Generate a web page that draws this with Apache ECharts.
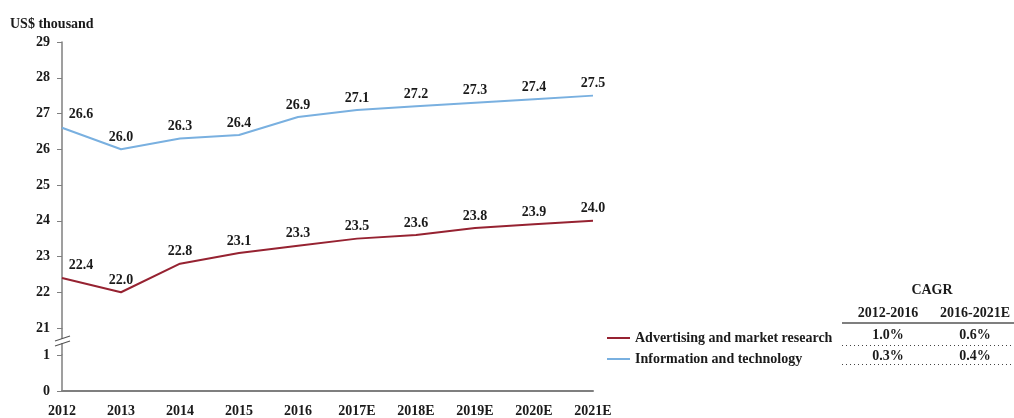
<!DOCTYPE html>
<html>
<head>
<meta charset="utf-8">
<script src="https://cdn.jsdelivr.net/npm/echarts@6/dist/echarts.min.js"></script>
<style>
  html, body { margin: 0; padding: 0; background: #fff; }
  #chart { width: 1014px; height: 418px; }
</style>
</head>
<body>
<div id="chart"></div>
<script>
// values
const years = ['2012', '2013', '2014', '2015', '2016', '2017E', '2018E', '2019E', '2020E', '2021E'];
const advertising = [22.4, 22.0, 22.8, 23.1, 23.3, 23.5, 23.6, 23.8, 23.9, 24.0];
const infoTech = [26.6, 26.0, 26.3, 26.4, 26.9, 27.1, 27.2, 27.3, 27.4, 27.5];
const seriesNames = ['Advertising and market research', 'Information and technology'];
const cagrPeriods = ['2012-2016', '2016-2021E'];
const cagrAdvertising = ['1.0%', '0.6%'];
const cagrInfoTech = ['0.3%', '0.4%'];

const FONT = "'Liberation Serif', 'Times New Roman', serif";
const FS = 14;
const TXT = '#1a1a1a';
const AXIS = '#7f7f7f';
const RED = '#962231';
const BLUE = '#79b0e0';

const chart = echarts.init(document.getElementById('chart'), null, { renderer: 'canvas' });

function labelCfg() {
  return {
    show: true,
    position: 'top',
    distance: 5,
    fontFamily: FONT,
    fontWeight: 'bold',
    fontSize: FS,
    color: TXT,
    formatter: p => p.value.toFixed(1)
  };
}

function lineData(arr) {
  // first point sits on the axis, so its label is pushed right
  return arr.map((v, i) => i === 0 ? { value: v, label: { offset: [19, -1] } } : v);
}

// CAGR table (right side)
const colX = [888, 975];
const tableGraphics = [];
tableGraphics.push({
  type: 'text', x: 932, y: 290,
  style: { text: 'CAGR', font: 'bold ' + FS + 'px ' + FONT, fill: TXT, align: 'center', verticalAlign: 'middle' }
});
cagrPeriods.forEach((t, i) => {
  tableGraphics.push({
    type: 'text', x: colX[i], y: 313,
    style: { text: t, font: 'bold ' + FS + 'px ' + FONT, fill: TXT, align: 'center', verticalAlign: 'middle' }
  });
  tableGraphics.push({
    type: 'text', x: colX[i], y: 335,
    style: { text: cagrAdvertising[i], font: 'bold ' + FS + 'px ' + FONT, fill: TXT, align: 'center', verticalAlign: 'middle' }
  });
  tableGraphics.push({
    type: 'text', x: colX[i], y: 356,
    style: { text: cagrInfoTech[i], font: 'bold ' + FS + 'px ' + FONT, fill: TXT, align: 'center', verticalAlign: 'middle' }
  });
});
tableGraphics.push({
  type: 'line', shape: { x1: 842, y1: 323, x2: 1014, y2: 323 },
  style: { stroke: '#555', lineWidth: 1.5 }
});
[345.5, 364.5].forEach(y => {
  tableGraphics.push({
    type: 'line', shape: { x1: 842, y1: y, x2: 1014, y2: y },
    style: { stroke: '#444', lineWidth: 1.2, lineDash: [1, 3] }
  });
});

// axis break pieces between the two panels
const breakGraphics = [
  { type: 'line', shape: { x1: 62, y1: 328, x2: 62, y2: 339 }, style: { stroke: AXIS, lineWidth: 1.5 } },
  { type: 'line', shape: { x1: 62, y1: 343, x2: 62, y2: 355 }, style: { stroke: AXIS, lineWidth: 1.5 } },
  { type: 'line', shape: { x1: 55, y1: 341, x2: 70, y2: 336 }, style: { stroke: '#555', lineWidth: 1.2 } },
  { type: 'line', shape: { x1: 55, y1: 346, x2: 70, y2: 341 }, style: { stroke: '#555', lineWidth: 1.2 } }
];

const yAxisCommon = {
  type: 'value',
  interval: 1,
  axisLine: { show: true, lineStyle: { color: AXIS, width: 1.5 } },
  axisTick: { show: true, length: 5, lineStyle: { color: AXIS, width: 1 } },
  splitLine: { show: false },
  axisLabel: { fontFamily: FONT, fontWeight: 'bold', fontSize: FS, color: TXT, margin: 12 }
};

chart.setOption({
  animation: false,
  backgroundColor: '#fff',
  title: {
    text: 'US$ thousand', left: 5, top: 12,
    textStyle: { fontFamily: FONT, fontWeight: 'bold', fontSize: FS, color: TXT }
  },
  legend: {
    orient: 'vertical', left: 602, top: 326, itemGap: 7,
    itemWidth: 23, itemHeight: 2, icon: 'rect',
    data: seriesNames,
    textStyle: { fontFamily: FONT, fontWeight: 'bold', fontSize: FS, color: TXT }
  },
  grid: [
    { left: 62, top: 42, width: 531, height: 286 },
    { left: 62, top: 355, width: 531, height: 36 }
  ],
  xAxis: [
    { type: 'category', gridIndex: 0, data: years, boundaryGap: false, show: false },
    {
      type: 'category', gridIndex: 1, data: years, boundaryGap: false,
      axisLine: { show: true, lineStyle: { color: AXIS, width: 2 } },
      axisTick: { show: false },
      axisLabel: { fontFamily: FONT, fontWeight: 'bold', fontSize: FS, color: TXT, margin: 13, interval: 0 }
    }
  ],
  yAxis: [
    Object.assign({}, yAxisCommon, { gridIndex: 0, min: 21, max: 29 }),
    Object.assign({}, yAxisCommon, { gridIndex: 1, min: 0, max: 1 })
  ],
  series: [
    {
      name: seriesNames[0], type: 'line', xAxisIndex: 0, yAxisIndex: 0,
      data: lineData(advertising), symbol: 'circle', symbolSize: 0, showSymbol: true,
      lineStyle: { color: RED, width: 2 }, itemStyle: { color: RED },
      label: labelCfg()
    },
    {
      name: seriesNames[1], type: 'line', xAxisIndex: 0, yAxisIndex: 0,
      data: lineData(infoTech), symbol: 'circle', symbolSize: 0, showSymbol: true,
      lineStyle: { color: BLUE, width: 2 }, itemStyle: { color: BLUE },
      label: labelCfg()
    }
  ],
  graphic: breakGraphics.concat(tableGraphics)
});
</script>
</body>
</html>
